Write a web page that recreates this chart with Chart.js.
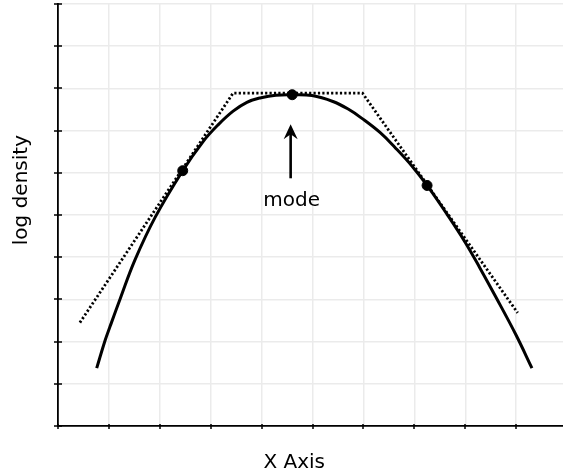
<!DOCTYPE html>
<html>
<head>
<meta charset="utf-8">
<script src="https://cdn.jsdelivr.net/npm/chart.js@4/dist/chart.umd.min.js"></script>
<style>
  html, body { margin: 0; padding: 0; background: #fff; }
  #mychart { display: block; }
</style>
</head>
<body>
<canvas id="mychart" width="563" height="473"></canvas>
<script>
// log density curve
const curveX = [0.76, 0.92, 1.02, 1.22, 1.51, 1.91, 2.45, 2.85, 3.14, 3.44, 3.71, 3.99, 4.28, 4.60,
                4.99, 5.40, 5.70, 5.97, 6.33, 6.62, 6.96, 7.25, 7.64, 8.00, 8.29, 8.59, 9.00, 9.31];
const curveY = [1.37, 2.01, 2.35, 3.01, 3.93, 4.95, 6.05, 6.74, 7.13, 7.46, 7.67, 7.78, 7.84, 7.85,
                7.83, 7.69, 7.51, 7.29, 6.95, 6.60, 6.15, 5.70, 5.02, 4.35, 3.74, 3.08, 2.15, 1.37];

// dotted piecewise-linear envelope
const hullX = [0.43, 3.44, 5.98, 9.03];
const hullY = [2.45, 7.89, 7.89, 2.68];

// the three marked points
const markX = [2.45, 4.60, 7.25];
const markY = [6.05, 7.85, 5.70];

// "mode" annotation
const modeX = 4.57;
const arrowFromY = 5.87;
const arrowToY = 7.15;
const modeLabelY = 5.22;

const xTitle = 'X Axis';
const yTitle = 'log density';
const xTitlePos = 4.64;
const yTitlePos = 5.59;

const ctx = document.getElementById('mychart');

const toPoints = (xs, ys) => xs.map((x, i) => ({ x: x, y: ys[i] }));

const FONT = '20px "DejaVu Sans", sans-serif';

const decorations = {
    id: 'decorations',
    afterDraw(chart) {
        const c = chart.ctx;
        const xs = chart.scales.x;
        const ys = chart.scales.y;
        const left = chart.chartArea.left;
        const bottom = chart.chartArea.bottom;

        c.save();
        // small tick marks crossing the axes
        c.strokeStyle = '#000';
        c.lineWidth = 1.5;
        c.beginPath();
        ys.ticks.forEach(t => {
            const py = Math.round(ys.getPixelForValue(t.value));
            c.moveTo(left - 4, py);
            c.lineTo(left + 4, py);
        });
        xs.ticks.forEach(t => {
            const px = Math.round(xs.getPixelForValue(t.value));
            c.moveTo(px, bottom - 2);
            c.lineTo(px, bottom + 3);
        });
        c.stroke();

        // arrow pointing at the mode
        const ax = xs.getPixelForValue(modeX);
        const y0 = ys.getPixelForValue(arrowFromY);
        const y1 = ys.getPixelForValue(arrowToY);
        c.lineWidth = 2.6;
        c.beginPath();
        c.moveTo(ax, y0);
        c.lineTo(ax, y1 + 8);
        c.stroke();
        c.fillStyle = '#000';
        c.beginPath();
        c.moveTo(ax, y1);
        c.lineTo(ax - 7, y1 + 15);
        c.lineTo(ax, y1 + 10);
        c.lineTo(ax + 7, y1 + 15);
        c.closePath();
        c.fill();

        // texts
        c.font = FONT;
        c.fillStyle = '#000';
        c.textAlign = 'center';
        c.textBaseline = 'alphabetic';
        c.fillText('mode', ax + 1, ys.getPixelForValue(modeLabelY));
        c.fillText(xTitle, xs.getPixelForValue(xTitlePos), 468);

        c.translate(27, ys.getPixelForValue(yTitlePos));
        c.rotate(-Math.PI / 2);
        c.fillText(yTitle, 0, 0);
        c.restore();
    }
};

new Chart(ctx, {
    type: 'scatter',
    data: {
        datasets: [{
            data: toPoints(curveX, curveY),
            showLine: true,
            borderColor: '#000',
            borderWidth: 3,
            pointRadius: 0,
            tension: 0.4
        }, {
            data: toPoints(hullX, hullY),
            showLine: true,
            borderColor: '#000',
            borderWidth: 2.8,
            borderDash: [2.2, 2.2],
            pointRadius: 0,
            tension: 0
        }, {
            data: toPoints(markX, markY),
            showLine: false,
            pointRadius: 5,
            pointBackgroundColor: '#000',
            pointBorderColor: '#000'
        }]
    },
    options: {
        responsive: false,
        animation: false,
        layout: { autoPadding: false, padding: { top: 4, right: 0, left: 0, bottom: 0 } },
        plugins: {
            legend: { display: false },
            tooltip: { enabled: false }
        },
        scales: {
            x: {
                type: 'linear',
                min: 0,
                max: 9.92,
                ticks: { display: false, stepSize: 1, includeBounds: false },
                grid: { color: '#ebebeb', lineWidth: 1.5, drawTicks: false },
                border: { display: true, color: '#000', width: 1.8 },
                afterFit: s => { s.height = 47; }
            },
            y: {
                type: 'linear',
                min: 0,
                max: 10,
                ticks: { display: false, stepSize: 1 },
                grid: { color: '#ebebeb', lineWidth: 1.5, drawTicks: false },
                border: { display: true, color: '#000', width: 1.8 },
                afterFit: s => { s.width = 58; }
            }
        }
    },
    plugins: [decorations]
});
</script>
</body>
</html>
